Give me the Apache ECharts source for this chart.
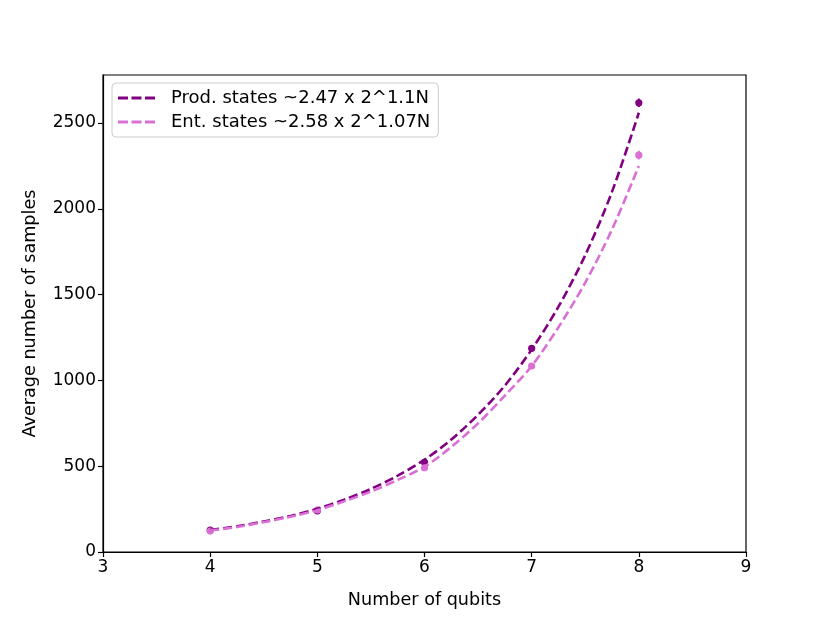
<!DOCTYPE html>
<html>
<head>
<meta charset="utf-8">
<script src="https://cdn.jsdelivr.net/npm/echarts@6/dist/echarts.min.js"></script>
<style>
  html, body { margin: 0; padding: 0; background: #fff; }
  #chart { width: 830px; height: 623px; }
</style>
</head>
<body>
<div id="chart"></div>
<script>
// measured points (number of qubits -> average samples)
var qubits = [4, 5, 6, 7, 8];
var prodMean = [128, 240, 523, 1187, 2618];
var prodErr = [4, 5, 8, 10, 25];
var entMean = [122, 245, 491, 1084, 2313];
var entErr = [4, 5, 8, 10, 25];

// fitted curves, every quarter qubit
var fitX = [4, 4.25, 4.5, 4.75, 5, 5.25, 5.5, 5.75, 6, 6.25, 6.5, 6.75, 7, 7.25, 7.5, 7.75, 8];
var prodFit = [128, 150, 178, 210, 252, 305, 368, 445, 538, 655, 800, 970, 1180, 1430, 1730, 2100, 2560];
var entFit = [125, 146, 174, 205, 243, 295, 352, 420, 497, 612, 750, 912, 1084, 1310, 1570, 1880, 2250];

var prodName = 'Prod. states ~2.47 x 2^1.1N';
var entName = 'Ent. states ~2.58 x 2^1.07N';
var prodColor = '#800080';
var entColor = '#da70d6';

var FONT = 'DejaVu Sans';

function pairs(xs, ys) {
    var out = [];
    for (var i = 0; i < xs.length; i++) out.push([xs[i], ys[i]]);
    return out;
}

function errData(xs, ys, es) {
    var out = [];
    for (var i = 0; i < xs.length; i++) out.push([xs[i], ys[i], es[i]]);
    return out;
}

// marker + vertical error bar
function errRender(color) {
    return function (params, api) {
        var x = api.value(0), y = api.value(1), e = api.value(2);
        var c = api.coord([x, y]);
        var lo = api.coord([x, y - e]);
        var hi = api.coord([x, y + e]);
        return {
            type: 'group',
            children: [
                { type: 'line', shape: { x1: lo[0], y1: lo[1], x2: hi[0], y2: hi[1] },
                  style: { stroke: color, lineWidth: 2 } },
                { type: 'circle', shape: { cx: c[0], cy: c[1], r: 3.6 },
                  style: { fill: color } }
            ]
        };
    };
}

var dashIcon = 'path://M0,0h10v3h-10z M13.5,0h10v3h-10z M27,0h10v3h-10z';

var option = {
    animation: false,
    textStyle: { fontFamily: FONT },
    grid: {
        left: 103, right: 84, top: 75, bottom: 71,
        show: true, borderColor: '#000', borderWidth: 1.2, backgroundColor: '#fff'
    },
    legend: {
        left: 112, top: 83,
        orient: 'vertical',
        backgroundColor: '#fff',
        borderColor: '#cccccc', borderWidth: 1, borderRadius: 4,
        padding: [6, 8, 6, 6],
        itemGap: 6,
        itemWidth: 37, itemHeight: 3,
        textStyle: { fontFamily: FONT, fontSize: 18, color: '#000', padding: [0, 0, 0, 11] },
        data: [
            { name: prodName, icon: dashIcon, itemStyle: { color: prodColor } },
            { name: entName, icon: dashIcon, itemStyle: { color: entColor } }
        ]
    },
    xAxis: {
        type: 'value', min: 3, max: 9, interval: 1,
        name: 'Number of qubits', nameLocation: 'middle', nameGap: 39,
        nameTextStyle: { fontFamily: FONT, fontSize: 17.6, color: '#000' },
        axisLine: { show: true, lineStyle: { color: '#000', width: 1.2 } },
        axisTick: { show: true, length: 5, lineStyle: { color: '#000', width: 1.2 } },
        axisLabel: { fontFamily: FONT, fontSize: 17, color: '#000', margin: 7 },
        splitLine: { show: false }
    },
    yAxis: {
        type: 'value', min: 0, max: 2780, interval: 500,
        name: 'Average number of samples', nameLocation: 'middle', nameGap: 64,
        nameTextStyle: { fontFamily: FONT, fontSize: 17.6, color: '#000' },
        axisLine: { show: true, lineStyle: { color: '#000', width: 1.2 } },
        axisTick: { show: true, length: 5, lineStyle: { color: '#000', width: 1.2 } },
        axisLabel: {
            fontFamily: FONT, fontSize: 17, color: '#000', margin: 7,
            showMaxLabel: false,
            formatter: function (v) { return v % 500 === 0 ? String(v) : ''; }
        },
        splitLine: { show: false }
    },
    series: [
        {
            type: 'custom', name: 'prodPts', renderItem: errRender(prodColor),
            data: errData(qubits, prodMean, prodErr), z: 3
        },
        {
            type: 'custom', name: 'entPts', renderItem: errRender(entColor),
            data: errData(qubits, entMean, entErr), z: 3
        },
        {
            type: 'line', name: prodName, data: pairs(fitX, prodFit),
            smooth: 0.3, showSymbol: false, symbol: 'none', z: 4,
            itemStyle: { color: prodColor },
            lineStyle: { color: prodColor, width: 2.6, type: [9, 4] }
        },
        {
            type: 'line', name: entName, data: pairs(fitX, entFit),
            smooth: 0.3, showSymbol: false, symbol: 'none', z: 4,
            itemStyle: { color: entColor },
            lineStyle: { color: entColor, width: 2.6, type: [9, 4] }
        }
    ]
};

var myChart = echarts.init(document.getElementById('chart'));
myChart.setOption(option);
</script>
</body>
</html>
